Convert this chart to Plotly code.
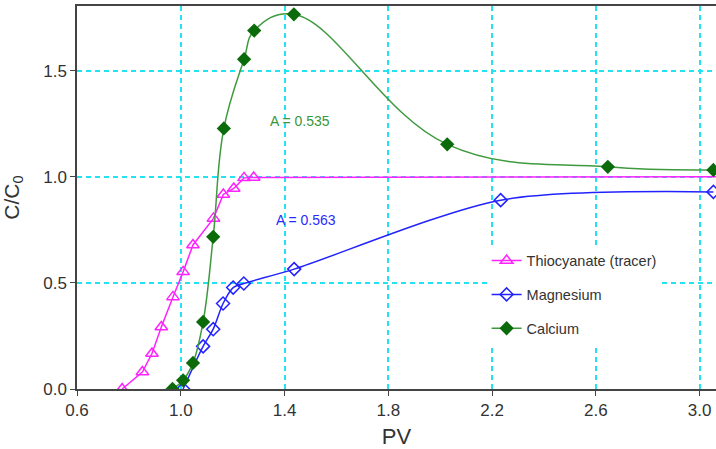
import plotly.graph_objects as go

# Breakthrough curves: relative concentration vs pore volumes
thio_pv = [0.774, 0.852, 0.889, 0.925, 0.970, 1.009, 1.047, 1.126, 1.164, 1.204, 1.244, 1.281]
thio_c = [0.0, 0.080, 0.167, 0.292, 0.434, 0.552, 0.679, 0.804, 0.917, 0.945, 0.995, 0.997]
thio_tail_pv = [1.281, 3.10]
thio_tail_c = [0.997, 1.0]

mg_pv = [1.009, 1.086, 1.125, 1.163, 1.202, 1.243, 1.437, 2.233, 3.053]
mg_c = [0.0, 0.201, 0.282, 0.403, 0.478, 0.497, 0.565, 0.890, 0.929]

ca_pv = [0.968, 1.009, 1.047, 1.086, 1.125, 1.166, 1.244, 1.283, 1.436, 2.027, 2.646, 3.053]
ca_c = [0.0, 0.041, 0.123, 0.316, 0.717, 1.228, 1.554, 1.689, 1.766, 1.153, 1.047, 1.032]

x_ticks = [0.6, 1.0, 1.4, 1.8, 2.2, 2.6, 3.0]
y_ticks = [0.0, 0.5, 1.0, 1.5]

area_labels = [("A = 0.535", 1.459, 1.263, "#3a963a"), ("A = 0.563", 1.482, 0.795, "#2a2aff")]

MAGENTA = "#ff22ff"
BLUE = "#2222ff"
GREEN_LINE = "#3f9a3f"
GREEN_MARK = "#0b6b0b"
GRID = "#22e4f0"
FONT = "Liberation Sans, Arial, sans-serif"

fig = go.Figure()

fig.add_trace(go.Scatter(
    x=thio_tail_pv, y=thio_tail_c, mode="lines",
    line=dict(color=MAGENTA, width=1.5), showlegend=False, hoverinfo="skip"))
fig.add_trace(go.Scatter(
    x=thio_pv, y=thio_c, mode="lines+markers", name="Thiocyanate (tracer)",
    legendgroup="a",
    line=dict(color=MAGENTA, width=1.5),
    marker=dict(symbol="triangle-up-open", size=11, color=MAGENTA, line=dict(width=1.5))))
fig.add_trace(go.Scatter(
    x=mg_pv, y=mg_c, mode="lines+markers", name="Magnesium",
    legendgroup="b",
    line=dict(color=BLUE, width=1.5, shape="spline", smoothing=0.8),
    marker=dict(symbol="diamond-open", size=10, color=BLUE, line=dict(width=1.5))))
fig.add_trace(go.Scatter(
    x=ca_pv, y=ca_c, mode="lines+markers", name="Calcium",
    legendgroup="c",
    line=dict(color=GREEN_LINE, width=1.5, shape="spline", smoothing=1.15),
    marker=dict(symbol="diamond", size=11, color=GREEN_MARK)))

for text, x, y, col in area_labels:
    fig.add_annotation(x=x, y=y, text=text, showarrow=False,
                       font=dict(family=FONT, size=14, color=col))

fig.update_layout(
    width=716, height=449,
    margin=dict(l=77, r=0, t=6, b=60),
    paper_bgcolor="white", plot_bgcolor="white",
    font=dict(family=FONT, color="#333333"),
    legend=dict(
        x=0.641, y=0.377, xanchor="left", yanchor="top",
        bgcolor="white", borderwidth=0,
        font=dict(family=FONT, size=14.5, color="#333333"),
        tracegroupgap=12, itemwidth=30,
    ),
    xaxis=dict(
        range=[0.6, 3.063], tickvals=x_ticks, ticktext=[f"{v:.1f}" for v in x_ticks],
        showgrid=True, gridcolor=GRID, griddash="5px,4px", gridwidth=1.5,
        showline=True, linecolor="#444444", linewidth=1.5, mirror=True,
        ticks="outside", ticklen=5, tickcolor="#444444",
        tickfont=dict(size=17, color="#333333"),
        title=dict(text="PV", font=dict(size=22, color="#333333"), standoff=10),
        zeroline=False,
    ),
    yaxis=dict(
        range=[0, 1.805], tickvals=y_ticks, ticktext=[f"{v:.1f}" for v in y_ticks],
        showgrid=True, gridcolor=GRID, griddash="5px,4px", gridwidth=1.5,
        showline=True, linecolor="#444444", linewidth=1.5,
        ticks="outside", ticklen=5, tickcolor="#444444",
        tickfont=dict(size=17, color="#333333"),
        title=dict(text="C/C<sub>0</sub>", font=dict(size=21, color="#333333"), standoff=18),
        zeroline=False,
    ),
)

fig.write_html("out.html")
